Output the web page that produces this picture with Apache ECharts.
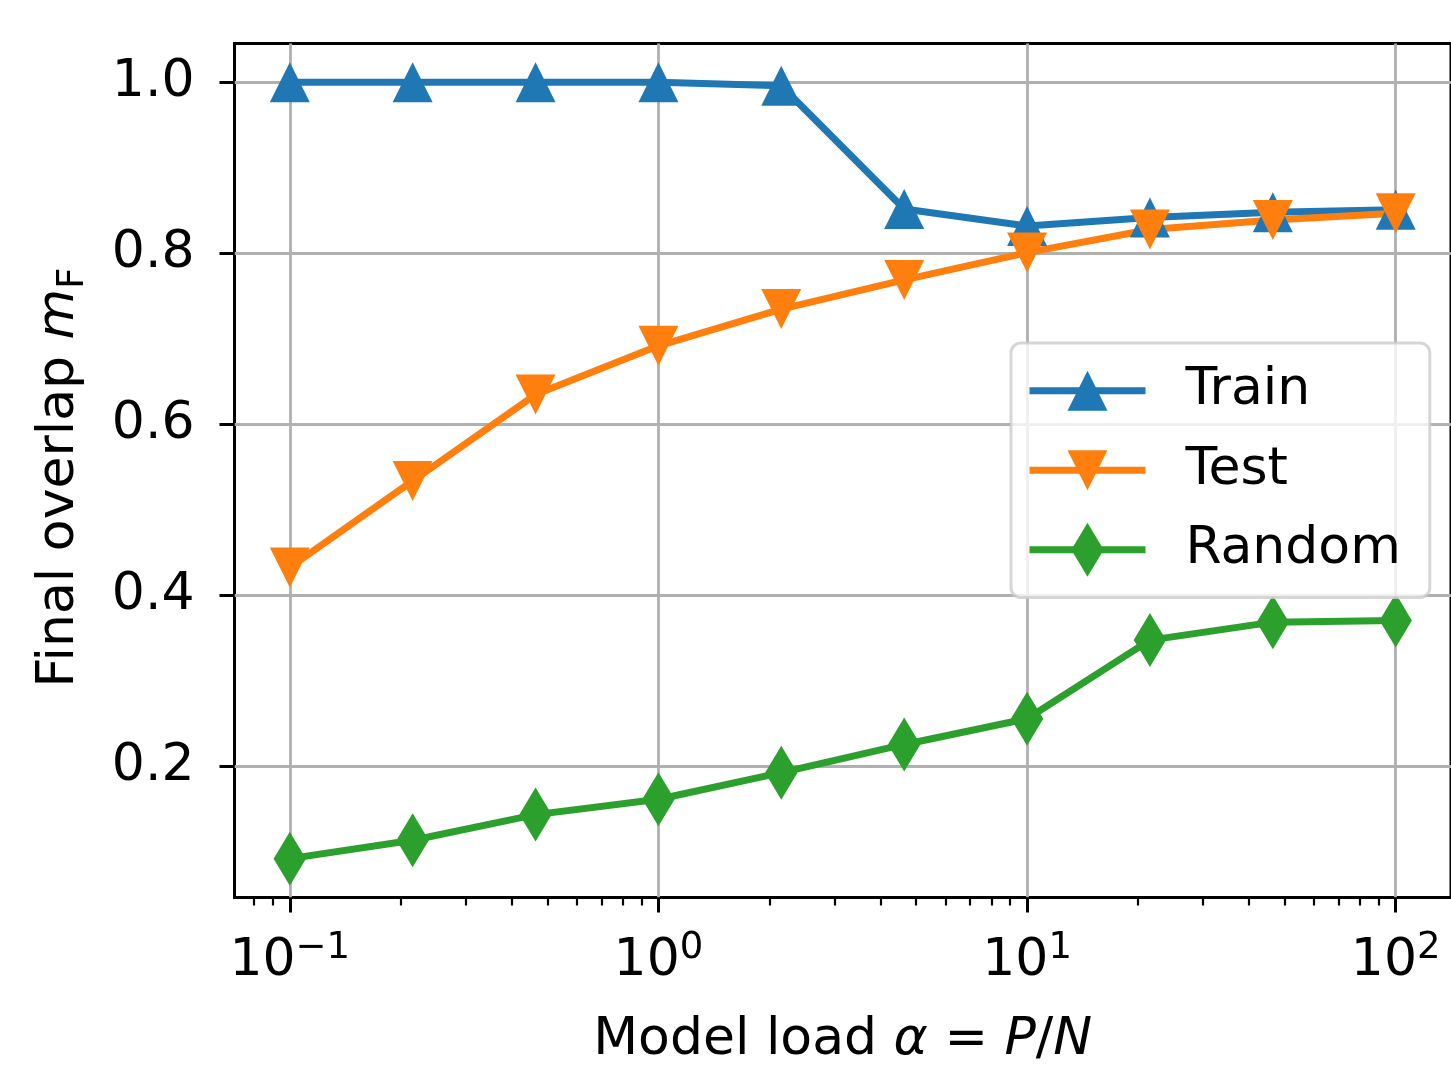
<!DOCTYPE html>
<html>
<head>
<meta charset="utf-8">
<script src="https://cdn.jsdelivr.net/npm/echarts@6/dist/echarts.min.js"></script>
<style>
html, body { margin: 0; padding: 0; background: #ffffff; }
#chart { width: 1451px; height: 1091px; }
</style>
</head>
<body>
<div id="chart"></div>
<script>
// Model load alpha = P/N (log-spaced) and final overlaps
const loads = [0.1, 0.2154, 0.4642, 1, 2.154, 4.642, 10, 21.54, 46.42, 100];
const trainOverlap = [1.0, 1.0, 1.0, 1.0, 0.996, 0.852, 0.832, 0.842, 0.848, 0.851];
const testOverlap = [0.433, 0.534, 0.635, 0.692, 0.735, 0.769, 0.801, 0.828, 0.839, 0.847];
const randomOverlap = [0.0925, 0.114, 0.144, 0.162, 0.193, 0.226, 0.256, 0.348, 0.369, 0.371];

const seriesNames = ['Train', 'Test', 'Random'];

// Axis ticks
const xTickValues = [0.1, 1, 10, 100];
const xTickExponents = ['\u22121', '0', '1', '2'];
const xMinorTicks = [0.08, 0.09, 0.2, 0.3, 0.4, 0.5, 0.6, 0.7, 0.8, 0.9,
  2, 3, 4, 5, 6, 7, 8, 9, 20, 30, 40, 50, 60, 70, 80, 90];
const yTickValues = [0.2, 0.4, 0.6, 0.8, 1.0];
const yTickLabels = ['0.2', '0.4', '0.6', '0.8', '1.0'];

const FONT = 'DejaVu Sans';
const COLORS = ['#1f77b4', '#ff7f0e', '#2ca02c'];

// Marker shapes; the leading moveTo points fix a square bounding box so that
// the drawn shapes keep their proportions both on the plot and in the legend.
const TRI_UP = 'path://M-1.35,-1.35M1.35,1.35M0,-1L1,1L-1,1Z';
const TRI_DOWN = 'path://M-1.35,-1.35M1.35,1.35M0,1L1,-1L-1,-1Z';
const THIN_DIAMOND = 'path://M-1,-1M1,1M0,-1L0.6,0L0,1L-0.6,0Z';

const X_MIN = Math.pow(10, -1.15);
const X_MAX = Math.pow(10, 2.15);
const Y_MIN = 0.0471;
const Y_MAX = 1.0454;

function pairs(ys) {
  return loads.map((x, i) => [x, ys[i]]);
}

function xTickFormatter(v) {
  let idx = xTickValues.findIndex(t => Math.abs(v - t) / t < 1e-6);
  if (idx < 0) idx = xTickValues.findIndex(t => Math.abs(v - Math.log10(t)) < 1e-6);
  if (idx < 0) return '';
  return '{b|10}{s|' + xTickExponents[idx] + '}';
}

function yTickFormatter(v) {
  const idx = yTickValues.findIndex(t => Math.abs(v - t) < 1e-6);
  return idx < 0 ? '' : yTickLabels[idx];
}

function lineSeries(name, ys, color, symbol) {
  return {
    name: name,
    type: 'line',
    xAxisIndex: 0,
    yAxisIndex: 0,
    data: pairs(ys),
    symbol: symbol,
    symbolSize: 54,
    showSymbol: true,
    lineStyle: { color: color, width: 7 },
    itemStyle: { color: color },
    emphasis: { disabled: true },
    animation: false
  };
}

const chart = echarts.init(document.getElementById('chart'), null, { renderer: 'canvas' });

chart.setOption({
  backgroundColor: '#ffffff',
  animation: false,
  grid: {
    left: 234.5,
    top: 43.5,
    width: 1220,
    height: 854,
    show: true,
    borderColor: '#000000',
    borderWidth: 3,
    backgroundColor: 'transparent',
    containLabel: false
  },
  legend: {
    orient: 'vertical',
    left: 1011,
    top: 343,
    data: seriesNames,
    itemWidth: 116,
    itemHeight: 67.5,
    itemGap: 12,
    padding: [14, 29, 14, 15],
    backgroundColor: 'rgba(255,255,255,0.8)',
    borderColor: 'rgba(204,204,204,0.8)',
    borderWidth: 3,
    borderRadius: 10,
    selectedMode: false,
    lineStyle: { width: 7 },
    textStyle: {
      fontFamily: FONT,
      fontSize: 52,
      color: '#000000',
      lineHeight: 67.5,
      padding: [0, 0, 0, 35]
    }
  },
  xAxis: [
    {
      type: 'log',
      logBase: 10,
      min: X_MIN,
      max: X_MAX,
      gridIndex: 0,
      position: 'bottom',
      name: 'Model load {i|\u03b1} = {i|P}/{i|N}',
      nameLocation: 'middle',
      nameGap: 113,
      nameTextStyle: {
        fontFamily: FONT,
        fontSize: 52,
        color: '#000000',
        lineHeight: 60,
        rich: {
          i: { fontFamily: FONT, fontSize: 52, fontStyle: 'italic', color: '#000000', lineHeight: 60 }
        }
      },
      axisLine: { show: false },
      axisTick: {
        show: true,
        inside: false,
        length: 15,
        customValues: xTickValues,
        lineStyle: { color: '#000000', width: 3 }
      },
      axisLabel: {
        show: true,
        customValues: xTickValues,
        margin: 32,
        formatter: xTickFormatter,
        rich: {
          b: { fontFamily: FONT, fontSize: 52, color: '#000000', lineHeight: 64 },
          s: { fontFamily: FONT, fontSize: 37, color: '#000000', lineHeight: 32, verticalAlign: 'top' }
        }
      },
      splitLine: { show: true, lineStyle: { color: '#b0b0b0', width: 2.8 } },
      minorTick: { show: false },
      minorSplitLine: { show: false }
    },
    {
      type: 'log',
      logBase: 10,
      min: X_MIN,
      max: X_MAX,
      gridIndex: 0,
      position: 'bottom',
      axisLine: { show: false },
      axisTick: {
        show: true,
        inside: false,
        length: 8,
        customValues: xMinorTicks,
        lineStyle: { color: '#000000', width: 2.2 }
      },
      axisLabel: { show: false },
      splitLine: { show: false }
    }
  ],
  yAxis: [
    {
      type: 'value',
      min: Y_MIN,
      max: Y_MAX,
      gridIndex: 0,
      position: 'left',
      name: '{n|Final overlap }{m|m}{s|F}',
      nameLocation: 'middle',
      nameRotate: 90,
      nameGap: 143,
      nameTextStyle: {
        fontFamily: FONT,
        fontSize: 52,
        color: '#000000',
        rich: {
          n: { fontFamily: FONT, fontSize: 52, color: '#000000', lineHeight: 64 },
          m: { fontFamily: FONT, fontSize: 52, fontStyle: 'italic', color: '#000000', lineHeight: 64 },
          s: { fontFamily: FONT, fontSize: 37, color: '#000000', lineHeight: 37, verticalAlign: 'bottom', padding: [0, 14, 0, 0] }
        }
      },
      axisLine: { show: false },
      axisTick: {
        show: true,
        inside: false,
        length: 15,
        customValues: yTickValues,
        lineStyle: { color: '#000000', width: 3 }
      },
      axisLabel: {
        show: true,
        customValues: yTickValues,
        margin: 40,
        formatter: yTickFormatter,
        fontFamily: FONT,
        fontSize: 52,
        color: '#000000'
      },
      splitLine: { show: true, lineStyle: { color: '#b0b0b0', width: 2.8 } }
    }
  ],
  series: [
    lineSeries(seriesNames[0], trainOverlap, COLORS[0], TRI_UP),
    lineSeries(seriesNames[1], testOverlap, COLORS[1], TRI_DOWN),
    lineSeries(seriesNames[2], randomOverlap, COLORS[2], THIN_DIAMOND)
  ]
});
</script>
</body>
</html>
